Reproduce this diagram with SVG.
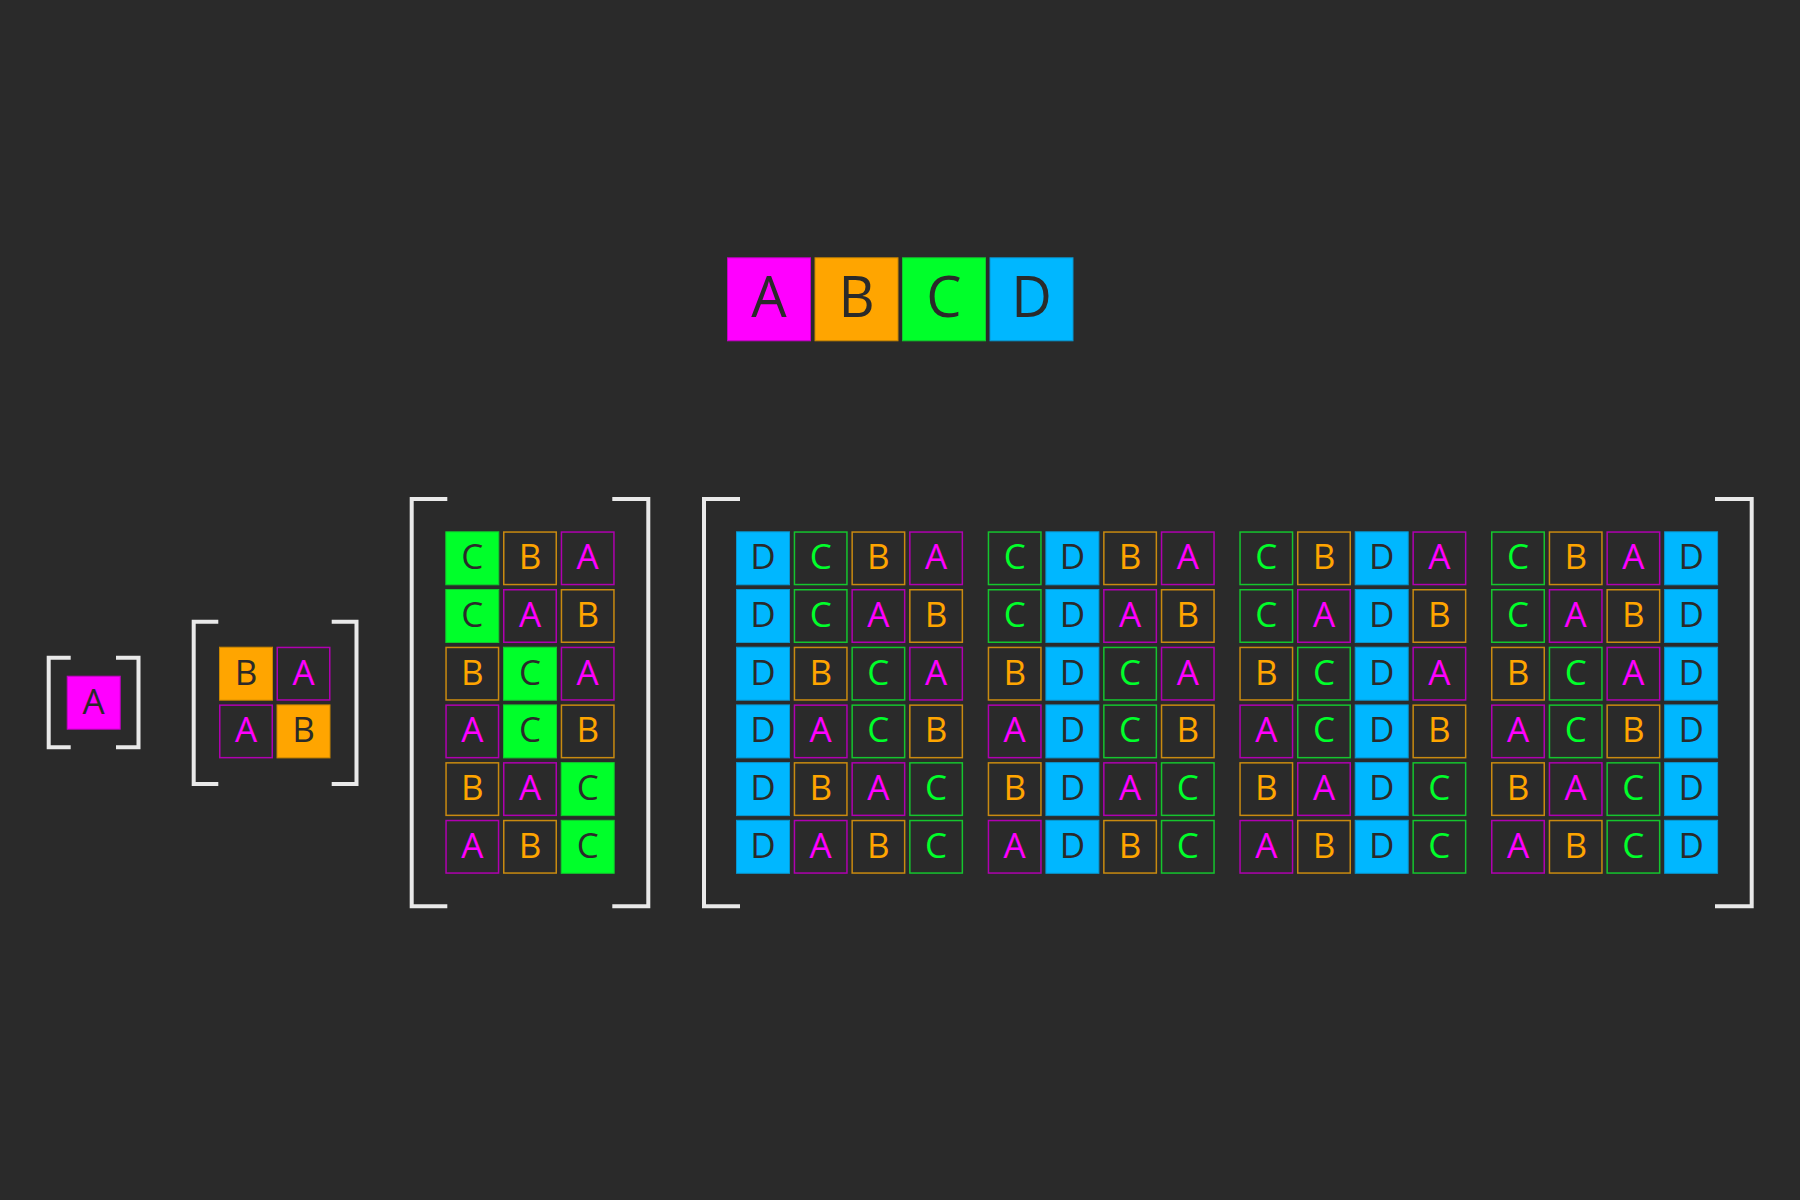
<svg xmlns="http://www.w3.org/2000/svg" xmlns:xlink="http://www.w3.org/1999/xlink" width="1800" height="1200" viewBox="0 0 1800 1200">
<style>
text{font-family:"Open Sans","Segoe UI","DejaVu Sans",sans-serif;font-size:35px;text-anchor:middle}
.big{font-size:56px}
.fa{fill:#ff00ff;stroke:#c400c4;stroke-width:1}
.fb{fill:#ffa500;stroke:#c98600;stroke-width:1}
.fc{fill:#00ff2a;stroke:#12c82e;stroke-width:1}
.fd{fill:#00b7ff;stroke:#0996cf;stroke-width:1}
.oa{fill:none;stroke:#b000b0;stroke-width:1.5}
.ob{fill:none;stroke:#c98a10;stroke-width:1.5}
.oc{fill:none;stroke:#15c52e;stroke-width:1.5}
.ta{fill:#ff00ff}.tb{fill:#ffa500}.tc{fill:#00ff2a}.tk{fill:#2a2a2a}
.br{fill:none;stroke:#e9e9e9;stroke-width:4;stroke-linejoin:miter;stroke-linecap:butt}
</style>
<defs>
<rect id="F" x="0.5" y="0.5" width="53" height="53"/>
<rect id="O" x="0.75" y="0.75" width="52.5" height="52.5"/>
<rect id="L" x="0.5" y="0.5" width="83" height="83"/>
</defs>
<rect x="0" y="0" width="1800" height="1200" fill="#2a2a2a"/>

<g id="legend">
<g id="leg-a" transform="translate(727 257.3)"><use href="#L" class="fa"/><text class="big tk" x="42" y="59.4">A</text></g>
<g id="leg-b" transform="translate(814.5 257.3)"><use href="#L" class="fb"/><text class="big tk" x="42" y="59.4">B</text></g>
<g id="leg-c" transform="translate(902 257.3)"><use href="#L" class="fc"/><text class="big tk" x="42" y="59.4">C</text></g>
<g id="leg-d" transform="translate(989.5 257.3)"><use href="#L" class="fd"/><text class="big tk" x="42" y="59.4">D</text></g>
</g>

<g id="brackets">
<path class="br" d="M70.7 657.7H48.7V747.3H70.7"/>
<path class="br" d="M116 657.7H138.5V747.3H116"/>
<path class="br" d="M218.3 621.7H193.7V784H218.3"/>
<path class="br" d="M331.7 621.7H356.5V784H331.7"/>
<path class="br" d="M447.3 499H411.7V906.3H447.3"/>
<path class="br" d="M612.3 499H648.3V906.3H612.3"/>
<path class="br" d="M740 499H704V906.3H740"/>
<path class="br" d="M1715 499H1751.7V906.3H1715"/>
</g>

<g id="m1">
<g id="m1-r0c0" transform="translate(66.7 675.7)"><use href="#F" class="fa"/><text class="tk" x="27" y="38">A</text></g>
</g>

<g id="m2">
<g id="m2-r0c0" transform="translate(219 646.7)"><use href="#F" class="fb"/><text class="tk" x="27" y="38">B</text></g>
<g id="m2-r0c1" transform="translate(276.5 646.7)"><use href="#O" class="oa"/><text class="ta" x="27" y="38">A</text></g>
<g id="m2-r1c0" transform="translate(219 704.4)"><use href="#O" class="oa"/><text class="ta" x="27" y="38">A</text></g>
<g id="m2-r1c1" transform="translate(276.5 704.4)"><use href="#F" class="fb"/><text class="tk" x="27" y="38">B</text></g>
</g>

<g id="m3">
<g id="m3-r0c0" transform="translate(445.3 531.3)"><use href="#F" class="fc"/><text class="tk" x="27" y="38">C</text></g>
<g id="m3-r0c1" transform="translate(503 531.3)"><use href="#O" class="ob"/><text class="tb" x="27" y="38">B</text></g>
<g id="m3-r0c2" transform="translate(560.7 531.3)"><use href="#O" class="oa"/><text class="ta" x="27" y="38">A</text></g>
<g id="m3-r1c0" transform="translate(445.3 589)"><use href="#F" class="fc"/><text class="tk" x="27" y="38">C</text></g>
<g id="m3-r1c1" transform="translate(503 589)"><use href="#O" class="oa"/><text class="ta" x="27" y="38">A</text></g>
<g id="m3-r1c2" transform="translate(560.7 589)"><use href="#O" class="ob"/><text class="tb" x="27" y="38">B</text></g>
<g id="m3-r2c0" transform="translate(445.3 646.7)"><use href="#O" class="ob"/><text class="tb" x="27" y="38">B</text></g>
<g id="m3-r2c1" transform="translate(503 646.7)"><use href="#F" class="fc"/><text class="tk" x="27" y="38">C</text></g>
<g id="m3-r2c2" transform="translate(560.7 646.7)"><use href="#O" class="oa"/><text class="ta" x="27" y="38">A</text></g>
<g id="m3-r3c0" transform="translate(445.3 704.4)"><use href="#O" class="oa"/><text class="ta" x="27" y="38">A</text></g>
<g id="m3-r3c1" transform="translate(503 704.4)"><use href="#F" class="fc"/><text class="tk" x="27" y="38">C</text></g>
<g id="m3-r3c2" transform="translate(560.7 704.4)"><use href="#O" class="ob"/><text class="tb" x="27" y="38">B</text></g>
<g id="m3-r4c0" transform="translate(445.3 762.1)"><use href="#O" class="ob"/><text class="tb" x="27" y="38">B</text></g>
<g id="m3-r4c1" transform="translate(503 762.1)"><use href="#O" class="oa"/><text class="ta" x="27" y="38">A</text></g>
<g id="m3-r4c2" transform="translate(560.7 762.1)"><use href="#F" class="fc"/><text class="tk" x="27" y="38">C</text></g>
<g id="m3-r5c0" transform="translate(445.3 819.8)"><use href="#O" class="oa"/><text class="ta" x="27" y="38">A</text></g>
<g id="m3-r5c1" transform="translate(503 819.8)"><use href="#O" class="ob"/><text class="tb" x="27" y="38">B</text></g>
<g id="m3-r5c2" transform="translate(560.7 819.8)"><use href="#F" class="fc"/><text class="tk" x="27" y="38">C</text></g>
</g>

<g id="m4">
<!-- block 0 -->
<g id="m4-b0r0c0" transform="translate(736 531.3)"><use href="#F" class="fd"/><text class="tk" x="27" y="38">D</text></g>
<g id="m4-b0r0c1" transform="translate(793.7 531.3)"><use href="#O" class="oc"/><text class="tc" x="27" y="38">C</text></g>
<g id="m4-b0r0c2" transform="translate(851.4 531.3)"><use href="#O" class="ob"/><text class="tb" x="27" y="38">B</text></g>
<g id="m4-b0r0c3" transform="translate(909.1 531.3)"><use href="#O" class="oa"/><text class="ta" x="27" y="38">A</text></g>
<g id="m4-b0r1c0" transform="translate(736 589)"><use href="#F" class="fd"/><text class="tk" x="27" y="38">D</text></g>
<g id="m4-b0r1c1" transform="translate(793.7 589)"><use href="#O" class="oc"/><text class="tc" x="27" y="38">C</text></g>
<g id="m4-b0r1c2" transform="translate(851.4 589)"><use href="#O" class="oa"/><text class="ta" x="27" y="38">A</text></g>
<g id="m4-b0r1c3" transform="translate(909.1 589)"><use href="#O" class="ob"/><text class="tb" x="27" y="38">B</text></g>
<g id="m4-b0r2c0" transform="translate(736 646.7)"><use href="#F" class="fd"/><text class="tk" x="27" y="38">D</text></g>
<g id="m4-b0r2c1" transform="translate(793.7 646.7)"><use href="#O" class="ob"/><text class="tb" x="27" y="38">B</text></g>
<g id="m4-b0r2c2" transform="translate(851.4 646.7)"><use href="#O" class="oc"/><text class="tc" x="27" y="38">C</text></g>
<g id="m4-b0r2c3" transform="translate(909.1 646.7)"><use href="#O" class="oa"/><text class="ta" x="27" y="38">A</text></g>
<g id="m4-b0r3c0" transform="translate(736 704.4)"><use href="#F" class="fd"/><text class="tk" x="27" y="38">D</text></g>
<g id="m4-b0r3c1" transform="translate(793.7 704.4)"><use href="#O" class="oa"/><text class="ta" x="27" y="38">A</text></g>
<g id="m4-b0r3c2" transform="translate(851.4 704.4)"><use href="#O" class="oc"/><text class="tc" x="27" y="38">C</text></g>
<g id="m4-b0r3c3" transform="translate(909.1 704.4)"><use href="#O" class="ob"/><text class="tb" x="27" y="38">B</text></g>
<g id="m4-b0r4c0" transform="translate(736 762.1)"><use href="#F" class="fd"/><text class="tk" x="27" y="38">D</text></g>
<g id="m4-b0r4c1" transform="translate(793.7 762.1)"><use href="#O" class="ob"/><text class="tb" x="27" y="38">B</text></g>
<g id="m4-b0r4c2" transform="translate(851.4 762.1)"><use href="#O" class="oa"/><text class="ta" x="27" y="38">A</text></g>
<g id="m4-b0r4c3" transform="translate(909.1 762.1)"><use href="#O" class="oc"/><text class="tc" x="27" y="38">C</text></g>
<g id="m4-b0r5c0" transform="translate(736 819.8)"><use href="#F" class="fd"/><text class="tk" x="27" y="38">D</text></g>
<g id="m4-b0r5c1" transform="translate(793.7 819.8)"><use href="#O" class="oa"/><text class="ta" x="27" y="38">A</text></g>
<g id="m4-b0r5c2" transform="translate(851.4 819.8)"><use href="#O" class="ob"/><text class="tb" x="27" y="38">B</text></g>
<g id="m4-b0r5c3" transform="translate(909.1 819.8)"><use href="#O" class="oc"/><text class="tc" x="27" y="38">C</text></g>
<!-- block 1 -->
<g id="m4-b1r0c0" transform="translate(987.7 531.3)"><use href="#O" class="oc"/><text class="tc" x="27" y="38">C</text></g>
<g id="m4-b1r0c1" transform="translate(1045.4 531.3)"><use href="#F" class="fd"/><text class="tk" x="27" y="38">D</text></g>
<g id="m4-b1r0c2" transform="translate(1103.1 531.3)"><use href="#O" class="ob"/><text class="tb" x="27" y="38">B</text></g>
<g id="m4-b1r0c3" transform="translate(1160.8 531.3)"><use href="#O" class="oa"/><text class="ta" x="27" y="38">A</text></g>
<g id="m4-b1r1c0" transform="translate(987.7 589)"><use href="#O" class="oc"/><text class="tc" x="27" y="38">C</text></g>
<g id="m4-b1r1c1" transform="translate(1045.4 589)"><use href="#F" class="fd"/><text class="tk" x="27" y="38">D</text></g>
<g id="m4-b1r1c2" transform="translate(1103.1 589)"><use href="#O" class="oa"/><text class="ta" x="27" y="38">A</text></g>
<g id="m4-b1r1c3" transform="translate(1160.8 589)"><use href="#O" class="ob"/><text class="tb" x="27" y="38">B</text></g>
<g id="m4-b1r2c0" transform="translate(987.7 646.7)"><use href="#O" class="ob"/><text class="tb" x="27" y="38">B</text></g>
<g id="m4-b1r2c1" transform="translate(1045.4 646.7)"><use href="#F" class="fd"/><text class="tk" x="27" y="38">D</text></g>
<g id="m4-b1r2c2" transform="translate(1103.1 646.7)"><use href="#O" class="oc"/><text class="tc" x="27" y="38">C</text></g>
<g id="m4-b1r2c3" transform="translate(1160.8 646.7)"><use href="#O" class="oa"/><text class="ta" x="27" y="38">A</text></g>
<g id="m4-b1r3c0" transform="translate(987.7 704.4)"><use href="#O" class="oa"/><text class="ta" x="27" y="38">A</text></g>
<g id="m4-b1r3c1" transform="translate(1045.4 704.4)"><use href="#F" class="fd"/><text class="tk" x="27" y="38">D</text></g>
<g id="m4-b1r3c2" transform="translate(1103.1 704.4)"><use href="#O" class="oc"/><text class="tc" x="27" y="38">C</text></g>
<g id="m4-b1r3c3" transform="translate(1160.8 704.4)"><use href="#O" class="ob"/><text class="tb" x="27" y="38">B</text></g>
<g id="m4-b1r4c0" transform="translate(987.7 762.1)"><use href="#O" class="ob"/><text class="tb" x="27" y="38">B</text></g>
<g id="m4-b1r4c1" transform="translate(1045.4 762.1)"><use href="#F" class="fd"/><text class="tk" x="27" y="38">D</text></g>
<g id="m4-b1r4c2" transform="translate(1103.1 762.1)"><use href="#O" class="oa"/><text class="ta" x="27" y="38">A</text></g>
<g id="m4-b1r4c3" transform="translate(1160.8 762.1)"><use href="#O" class="oc"/><text class="tc" x="27" y="38">C</text></g>
<g id="m4-b1r5c0" transform="translate(987.7 819.8)"><use href="#O" class="oa"/><text class="ta" x="27" y="38">A</text></g>
<g id="m4-b1r5c1" transform="translate(1045.4 819.8)"><use href="#F" class="fd"/><text class="tk" x="27" y="38">D</text></g>
<g id="m4-b1r5c2" transform="translate(1103.1 819.8)"><use href="#O" class="ob"/><text class="tb" x="27" y="38">B</text></g>
<g id="m4-b1r5c3" transform="translate(1160.8 819.8)"><use href="#O" class="oc"/><text class="tc" x="27" y="38">C</text></g>
<!-- block 2 -->
<g id="m4-b2r0c0" transform="translate(1239.3 531.3)"><use href="#O" class="oc"/><text class="tc" x="27" y="38">C</text></g>
<g id="m4-b2r0c1" transform="translate(1297 531.3)"><use href="#O" class="ob"/><text class="tb" x="27" y="38">B</text></g>
<g id="m4-b2r0c2" transform="translate(1354.7 531.3)"><use href="#F" class="fd"/><text class="tk" x="27" y="38">D</text></g>
<g id="m4-b2r0c3" transform="translate(1412.4 531.3)"><use href="#O" class="oa"/><text class="ta" x="27" y="38">A</text></g>
<g id="m4-b2r1c0" transform="translate(1239.3 589)"><use href="#O" class="oc"/><text class="tc" x="27" y="38">C</text></g>
<g id="m4-b2r1c1" transform="translate(1297 589)"><use href="#O" class="oa"/><text class="ta" x="27" y="38">A</text></g>
<g id="m4-b2r1c2" transform="translate(1354.7 589)"><use href="#F" class="fd"/><text class="tk" x="27" y="38">D</text></g>
<g id="m4-b2r1c3" transform="translate(1412.4 589)"><use href="#O" class="ob"/><text class="tb" x="27" y="38">B</text></g>
<g id="m4-b2r2c0" transform="translate(1239.3 646.7)"><use href="#O" class="ob"/><text class="tb" x="27" y="38">B</text></g>
<g id="m4-b2r2c1" transform="translate(1297 646.7)"><use href="#O" class="oc"/><text class="tc" x="27" y="38">C</text></g>
<g id="m4-b2r2c2" transform="translate(1354.7 646.7)"><use href="#F" class="fd"/><text class="tk" x="27" y="38">D</text></g>
<g id="m4-b2r2c3" transform="translate(1412.4 646.7)"><use href="#O" class="oa"/><text class="ta" x="27" y="38">A</text></g>
<g id="m4-b2r3c0" transform="translate(1239.3 704.4)"><use href="#O" class="oa"/><text class="ta" x="27" y="38">A</text></g>
<g id="m4-b2r3c1" transform="translate(1297 704.4)"><use href="#O" class="oc"/><text class="tc" x="27" y="38">C</text></g>
<g id="m4-b2r3c2" transform="translate(1354.7 704.4)"><use href="#F" class="fd"/><text class="tk" x="27" y="38">D</text></g>
<g id="m4-b2r3c3" transform="translate(1412.4 704.4)"><use href="#O" class="ob"/><text class="tb" x="27" y="38">B</text></g>
<g id="m4-b2r4c0" transform="translate(1239.3 762.1)"><use href="#O" class="ob"/><text class="tb" x="27" y="38">B</text></g>
<g id="m4-b2r4c1" transform="translate(1297 762.1)"><use href="#O" class="oa"/><text class="ta" x="27" y="38">A</text></g>
<g id="m4-b2r4c2" transform="translate(1354.7 762.1)"><use href="#F" class="fd"/><text class="tk" x="27" y="38">D</text></g>
<g id="m4-b2r4c3" transform="translate(1412.4 762.1)"><use href="#O" class="oc"/><text class="tc" x="27" y="38">C</text></g>
<g id="m4-b2r5c0" transform="translate(1239.3 819.8)"><use href="#O" class="oa"/><text class="ta" x="27" y="38">A</text></g>
<g id="m4-b2r5c1" transform="translate(1297 819.8)"><use href="#O" class="ob"/><text class="tb" x="27" y="38">B</text></g>
<g id="m4-b2r5c2" transform="translate(1354.7 819.8)"><use href="#F" class="fd"/><text class="tk" x="27" y="38">D</text></g>
<g id="m4-b2r5c3" transform="translate(1412.4 819.8)"><use href="#O" class="oc"/><text class="tc" x="27" y="38">C</text></g>
<!-- block 3 -->
<g id="m4-b3r0c0" transform="translate(1491 531.3)"><use href="#O" class="oc"/><text class="tc" x="27" y="38">C</text></g>
<g id="m4-b3r0c1" transform="translate(1548.7 531.3)"><use href="#O" class="ob"/><text class="tb" x="27" y="38">B</text></g>
<g id="m4-b3r0c2" transform="translate(1606.4 531.3)"><use href="#O" class="oa"/><text class="ta" x="27" y="38">A</text></g>
<g id="m4-b3r0c3" transform="translate(1664.1 531.3)"><use href="#F" class="fd"/><text class="tk" x="27" y="38">D</text></g>
<g id="m4-b3r1c0" transform="translate(1491 589)"><use href="#O" class="oc"/><text class="tc" x="27" y="38">C</text></g>
<g id="m4-b3r1c1" transform="translate(1548.7 589)"><use href="#O" class="oa"/><text class="ta" x="27" y="38">A</text></g>
<g id="m4-b3r1c2" transform="translate(1606.4 589)"><use href="#O" class="ob"/><text class="tb" x="27" y="38">B</text></g>
<g id="m4-b3r1c3" transform="translate(1664.1 589)"><use href="#F" class="fd"/><text class="tk" x="27" y="38">D</text></g>
<g id="m4-b3r2c0" transform="translate(1491 646.7)"><use href="#O" class="ob"/><text class="tb" x="27" y="38">B</text></g>
<g id="m4-b3r2c1" transform="translate(1548.7 646.7)"><use href="#O" class="oc"/><text class="tc" x="27" y="38">C</text></g>
<g id="m4-b3r2c2" transform="translate(1606.4 646.7)"><use href="#O" class="oa"/><text class="ta" x="27" y="38">A</text></g>
<g id="m4-b3r2c3" transform="translate(1664.1 646.7)"><use href="#F" class="fd"/><text class="tk" x="27" y="38">D</text></g>
<g id="m4-b3r3c0" transform="translate(1491 704.4)"><use href="#O" class="oa"/><text class="ta" x="27" y="38">A</text></g>
<g id="m4-b3r3c1" transform="translate(1548.7 704.4)"><use href="#O" class="oc"/><text class="tc" x="27" y="38">C</text></g>
<g id="m4-b3r3c2" transform="translate(1606.4 704.4)"><use href="#O" class="ob"/><text class="tb" x="27" y="38">B</text></g>
<g id="m4-b3r3c3" transform="translate(1664.1 704.4)"><use href="#F" class="fd"/><text class="tk" x="27" y="38">D</text></g>
<g id="m4-b3r4c0" transform="translate(1491 762.1)"><use href="#O" class="ob"/><text class="tb" x="27" y="38">B</text></g>
<g id="m4-b3r4c1" transform="translate(1548.7 762.1)"><use href="#O" class="oa"/><text class="ta" x="27" y="38">A</text></g>
<g id="m4-b3r4c2" transform="translate(1606.4 762.1)"><use href="#O" class="oc"/><text class="tc" x="27" y="38">C</text></g>
<g id="m4-b3r4c3" transform="translate(1664.1 762.1)"><use href="#F" class="fd"/><text class="tk" x="27" y="38">D</text></g>
<g id="m4-b3r5c0" transform="translate(1491 819.8)"><use href="#O" class="oa"/><text class="ta" x="27" y="38">A</text></g>
<g id="m4-b3r5c1" transform="translate(1548.7 819.8)"><use href="#O" class="ob"/><text class="tb" x="27" y="38">B</text></g>
<g id="m4-b3r5c2" transform="translate(1606.4 819.8)"><use href="#O" class="oc"/><text class="tc" x="27" y="38">C</text></g>
<g id="m4-b3r5c3" transform="translate(1664.1 819.8)"><use href="#F" class="fd"/><text class="tk" x="27" y="38">D</text></g>
</g>
</svg>
